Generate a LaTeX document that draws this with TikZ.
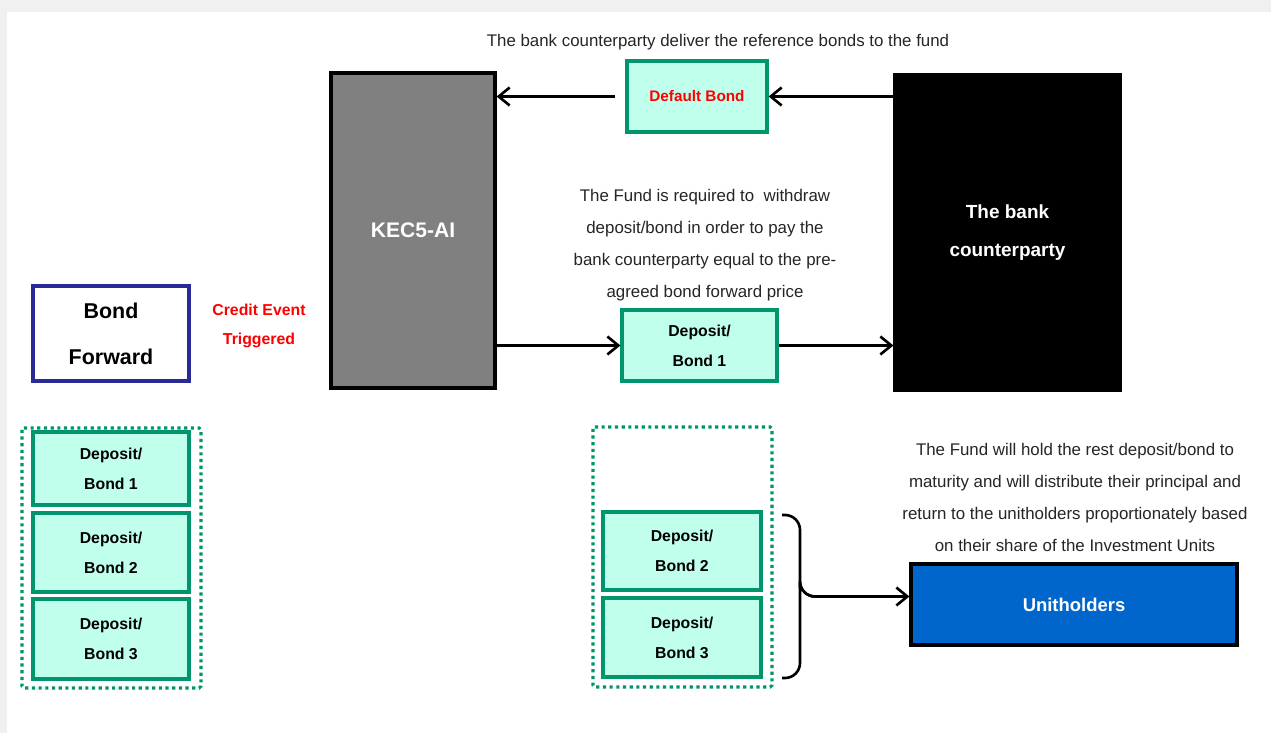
\documentclass[tikz,border=0pt]{standalone}
\usepackage{fontspec}
\setmainfont{Liberation Sans}
\usetikzlibrary{arrows.meta}
\definecolor{mgruen}{HTML}{00956C}
\definecolor{mmint}{HTML}{C0FFEC}
\definecolor{mnavy}{HTML}{2A2A96}
\definecolor{mblau}{HTML}{0066CC}
\definecolor{mgrau}{HTML}{808080}
\definecolor{mrand}{HTML}{F0F0F0}

\begin{document}
\begin{tikzpicture}[>={Straight Barb[length=2.2mm,width=3.6mm]},every edge/.style={draw=black,line width=1.5pt},
    depbox/.style={draw=mgruen, line width=1.8pt, fill=mmint, rectangle, minimum width=3.1cm, align=center, font=\bfseries\fontsize{9}{17}\selectfont},
    bigbox/.style={draw=black, line width=1.8pt, rectangle, text=white, align=center, font=\bfseries\fontsize{10.8}{22}\selectfont},
    note/.style={align=center, text=black!85, font=\fontsize{9.6}{18.2}\selectfont},
    group/.style={draw=mgruen, line width=1.8pt, dotted, rounded corners=1pt}]
        \useasboundingbox (0,0) rectangle (25.42,-14.66);
        \fill[mrand] (0,0) rectangle (25.42,-14.66);
        \fill[white] (0.14,-0.24) rectangle (25.42,-14.66);

        \node[bigbox, fill=mgrau, minimum width=3.28cm, minimum height=6.3cm, font=\bfseries\fontsize{12}{14}\selectfont] (K) at (8.26, -4.61) {KEC5-AI};

        \node[bigbox, fill=black, minimum width=4.5cm, minimum height=6.3cm] (Bank) at (20.15, -4.65) {The bank\\counterparty};

        \node[depbox, minimum width=2.8cm, minimum height=1.42cm, text=red, font=\bfseries\fontsize{8.7}{10}\selectfont] (DB) at (13.94, -1.93) {Default Bond};

        \node[note] (Tdeliver) at (14.36, -0.85) {The bank counterparty deliver the reference bonds to the fund};

        \node[note] (Twithdraw) at (14.1, -4.9) {The Fund is required to \ withdraw\\deposit/bond in order to pay the\\bank counterparty equal to the pre-\\agreed bond forward price};

        \node[depbox, minimum height=1.42cm] (D1) at (13.99, -6.91) {Deposit/\\Bond 1};

        \node[draw=mnavy, line width=1.8pt, rectangle, minimum width=3.12cm, minimum height=1.9cm, align=center, font=\bfseries\fontsize{12.2}{26}\selectfont] (BF) at (2.22, -6.67) {Bond\\Forward};

        \node[align=center, text=red, font=\bfseries\fontsize{9}{17}\selectfont] (CE) at (5.18, -6.52) {Credit Event\\Triggered};

        % left group
        \draw[group] (0.44,-8.56) rectangle (4.02,-13.76);
        \node[depbox, minimum width=3.12cm, minimum height=1.46cm] (L1) at (2.22, -9.37) {Deposit/\\Bond 1};
        \node[depbox, minimum width=3.12cm, minimum height=1.58cm] (L2) at (2.22, -11.05) {Deposit/\\Bond 2};
        \node[depbox, minimum width=3.12cm, minimum height=1.6cm] (L3) at (2.22, -12.78) {Deposit/\\Bond 3};

        % right group
        \draw[group] (11.86,-8.54) rectangle (15.44,-13.74);
        \node[depbox, minimum width=3.16cm, minimum height=1.56cm] (R2) at (13.64, -11.02) {Deposit/\\Bond 2};
        \node[depbox, minimum width=3.16cm, minimum height=1.58cm] (R3) at (13.64, -12.75) {Deposit/\\Bond 3};

        \node[note] (Thold) at (21.5, -9.95) {The Fund will hold the rest deposit/bond to\\maturity and will distribute their principal and\\return to the unitholders proportionately based\\on their share of the Investment Units};

        \node[bigbox, fill=mblau, minimum width=6.52cm, minimum height=1.62cm, font=\bfseries\fontsize{10.5}{12}\selectfont] (U) at (21.48, -12.09) {Unitholders};

        \coordinate (BrT) at (15.64, -10.3);
        \coordinate (BrB) at (15.64, -13.56);
        \coordinate (BrMid) at (16.0, -11.93);
        \coordinate (BrTip) at (16.36, -11.93);
        \draw[line width=1.5pt, rounded corners=0.3cm] (BrT) -| (BrMid) |- (BrTip);
        \draw[line width=1.5pt, rounded corners=0.3cm] (BrB) -| (BrMid) |- (BrTip);

        \path [->](Bank.west |- DB.east) edge (DB.east);
        \path [->](DB.west) edge[shorten <=0.2cm] (DB.west -| K.east);
        \path [->](K.east |- D1.west) edge (D1.west);
        \path [->](D1.east) edge (D1.east -| Bank.west);
        \path [->](BrTip) edge (BrTip -| U.west);

    \end{tikzpicture}
\end{document}
